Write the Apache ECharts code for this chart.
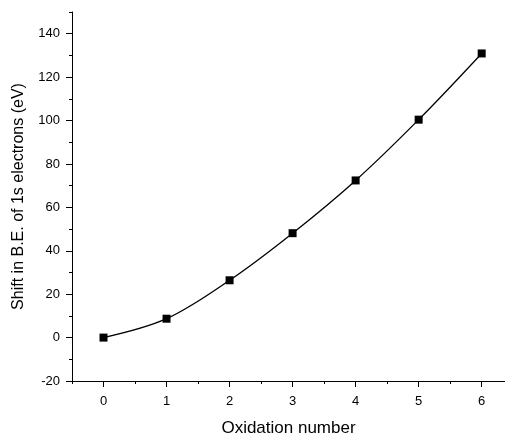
<!DOCTYPE html>
<html>
<head>
<meta charset="utf-8">
<script src="https://cdn.jsdelivr.net/npm/echarts@6/dist/echarts.min.js"></script>
<style>
  html, body { margin: 0; padding: 0; background: #fff; }
  #chart { width: 505px; height: 437px; }
</style>
</head>
<body>
<div id="chart"></div>
<script>
// oxidation number vs. shift in binding energy
var oxidation = [0, 1, 2, 3, 4, 5, 6];
var shift = [0, 8.7, 26.4, 48.1, 72.4, 100.4, 130.9];

// tick positions
var xMajor = [0, 1, 2, 3, 4, 5, 6];
var xMinor = [-0.5, 0.5, 1.5, 2.5, 3.5, 4.5, 5.5];
var yMajor = [-20, 0, 20, 40, 60, 80, 100, 120, 140];
var yMinor = [-10, 10, 30, 50, 70, 90, 110, 130, 150];

var chart = echarts.init(document.getElementById('chart'));

var points = oxidation.map(function (x, i) { return [x, shift[i]]; });

var FONT = 'Liberation Sans';
var black = '#000';

// second axis on the same side, only for the short ticks
function minorAxis(base, ticks) {
  return Object.assign({}, base, {
    name: '',
    axisLine: { show: false, onZero: false },
    axisTick: { show: true, inside: false, length: 3, customValues: ticks, lineStyle: { color: black } },
    axisLabel: { show: false },
    splitLine: { show: false }
  });
}

var xBase = { type: 'value', min: -0.5, max: 6.37, position: 'bottom', gridIndex: 0 };
var yBase = { type: 'value', min: -20, max: 150, position: 'left', gridIndex: 0 };

chart.setOption({
  animation: false,
  grid: { left: 72, right: 0, top: 12, bottom: 56, outerBoundsMode: 'none' },
  xAxis: [
    Object.assign({}, xBase, {
      name: 'Oxidation number',
      nameLocation: 'middle',
      nameGap: 39,
      nameTextStyle: { fontFamily: FONT, fontSize: 17, color: black },
      axisLine: { show: true, onZero: false, lineStyle: { color: black, width: 1 } },
      axisTick: { show: true, inside: false, length: 6, customValues: xMajor, lineStyle: { color: black } },
      axisLabel: { customValues: xMajor, margin: 14, fontFamily: FONT, fontSize: 13, color: black },
      splitLine: { show: false }
    }),
    minorAxis(xBase, xMinor)
  ],
  yAxis: [
    Object.assign({}, yBase, {
      name: 'Shift in B.E. of 1s electrons (eV)',
      nameLocation: 'middle',
      nameGap: 45,
      nameTextStyle: { fontFamily: FONT, fontSize: 16, color: black },
      axisLine: { show: true, onZero: false, lineStyle: { color: black, width: 1 } },
      axisTick: { show: true, inside: false, length: 6, customValues: yMajor, lineStyle: { color: black } },
      axisLabel: { customValues: yMajor, margin: 12, fontFamily: FONT, fontSize: 13, color: black },
      splitLine: { show: false }
    }),
    minorAxis(yBase, yMinor)
  ],
  series: [{
    type: 'line',
    xAxisIndex: 0,
    yAxisIndex: 0,
    data: points,
    smooth: 0.35,
    symbol: 'rect',
    symbolSize: 8,
    itemStyle: { color: black },
    lineStyle: { color: black, width: 1.3 }
  }]
});
</script>
</body>
</html>
